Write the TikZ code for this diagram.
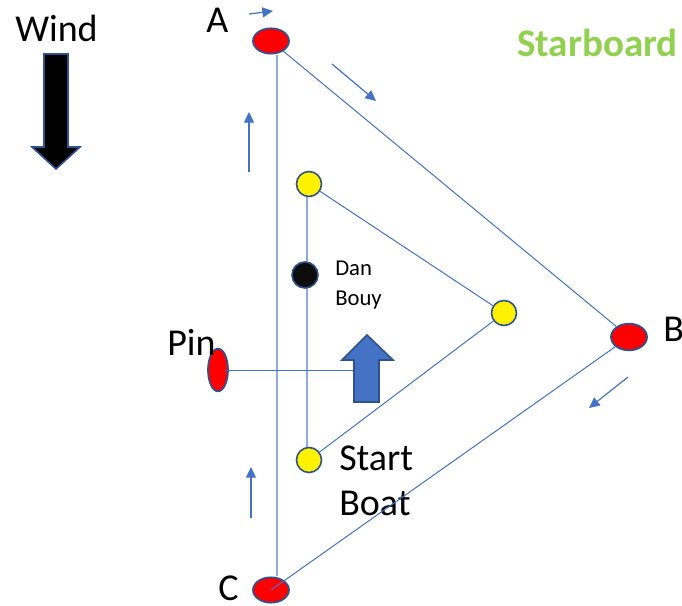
\documentclass[tikz,border=0pt]{standalone}
\usepackage{fontspec}
\setmainfont{Carlito}
\usetikzlibrary{shapes.geometric,arrows.meta,backgrounds}
\definecolor{lineblue}{HTML}{4472C4}
\definecolor{lightblue}{HTML}{8FAADC}
\definecolor{edgeblue}{HTML}{2F528F}
\definecolor{sbgreen}{HTML}{92D050}
\definecolor{dotblack}{HTML}{0D0D0D}
\begin{document}
\begin{tikzpicture}[x=0.75pt,y=-0.75pt,
  redbuoy/.style={ellipse, draw=edgeblue, line width=1.3pt, fill=red, inner sep=0pt, minimum width=27pt, minimum height=19pt},
  yellowbuoy/.style={circle, draw=edgeblue, line width=1.2pt, fill=yellow, inner sep=0pt, minimum size=18.75pt},
  darkbuoy/.style={circle, draw=edgeblue, line width=1.2pt, fill=dotblack, inner sep=0pt, minimum size=19.5pt},
  biglabel/.style={font=\fontsize{28.5}{33.75}\selectfont, inner sep=0pt, anchor=base west},
  smalllabel/.style={font=\fontsize{17}{22.5}\selectfont, inner sep=0pt, anchor=base west},
  legline/.style={lineblue, line width=0.75pt},
  lightline/.style={lightblue, line width=1.2pt},
  smallarrow/.style={lineblue, line width=0.9pt, -{Triangle[length=8pt,width=7.5pt]}},
  bigarrow/.style={draw=edgeblue, line width=1.2pt, line join=miter}
]
\useasboundingbox (0,0) rectangle (682,606);

% buoys
\node[redbuoy] (A) at (271,41) {};
\node[redbuoy, minimum height=20pt] (B) at (629,337) {};
\node[redbuoy] (C) at (271,590) {};
\node[redbuoy, minimum width=15pt, minimum height=32pt] (Pin) at (218,370) {};
\node[yellowbuoy] (Y1) at (309,184) {};
\node[yellowbuoy] (Y2) at (504,313) {};
\node[yellowbuoy] (Y3) at (309,460) {};
\node[darkbuoy] (D) at (305,275) {};
\coordinate (arrowL) at (354,370);

% labels
\node[biglabel] (lwind) at (15,42) {Wind};
\node[biglabel] (la) at (206,33) {A};
\node[biglabel] (lb) at (663,341) {B};
\node[biglabel] (lc) at (218,600) {C};
\node[biglabel] (lpin) at (167,355) {Pin};
\node[biglabel, align=left] (lsb) at (339,515) {Start\\Boat};
\node[smalllabel, align=left] (ldan) at (335,305) {Dan\\Bouy};
\node[biglabel, font=\fontsize{29.3}{33.75}\selectfont\bfseries, text=sbgreen] (lsbd) at (517,57) {Starboard};

% course lines
\begin{scope}[on background layer]
  \draw[lightline] ([xshift=4.5pt]A.south) -- ([xshift=4.5pt]C.north);
  \draw[legline] (A) -- (B);
  \draw[lightline] ([xshift=-1.5pt]Y1.south) -- ([xshift=-1.5pt]Y3.north);
  \draw[legline] (Y1) -- (Y2);
  \draw[legline] (Y2) -- (Y3);
\end{scope}
\draw[legline] (C.center) -- (B);
\draw[legline] ([xshift=-3pt]Pin.east) -- (arrowL);

% direction arrows
\draw[smallarrow] (249,14) -- (273,11);
\draw[smallarrow] (332,64) -- (376,101);
\draw[smallarrow] (628,377) -- (589,408);
\draw[smallarrow] (249,172) -- (249,112);
\draw[smallarrow] (251,518) -- (251,467);

% wind arrow
\draw[bigarrow, fill=black] (44,54) -- (68,54) -- (68,147) -- (80,147) -- (56,169) -- (32,147) -- (44,147) -- cycle;
% start direction arrow
\draw[bigarrow, fill=lineblue] (367,335) -- (393,360) -- (379,360) -- (379,402) -- (354,402) -- (354,360) -- (342,360) -- cycle;
\end{tikzpicture}
\end{document}
